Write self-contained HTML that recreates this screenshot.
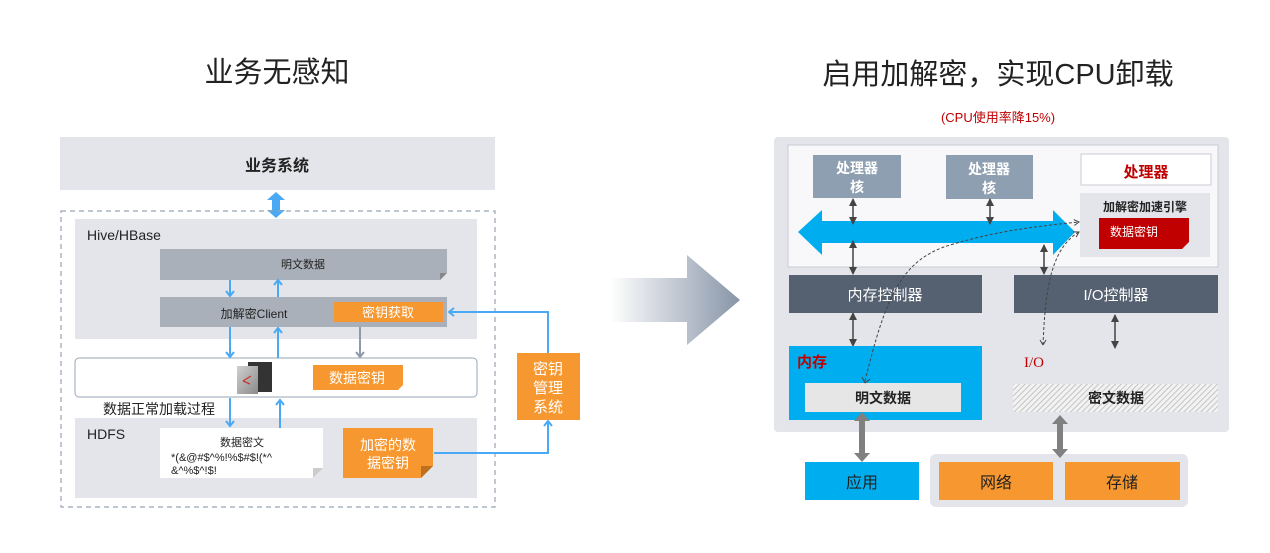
<!DOCTYPE html>
<html><head><meta charset="utf-8"><style>
html,body{margin:0;padding:0;background:#fff;}
svg{display:block;font-family:"Liberation Sans","Noto Sans CJK SC",sans-serif;}
</style></head><body>
<svg width="1270" height="553" viewBox="0 0 1270 553" xmlns="http://www.w3.org/2000/svg">
<defs>
<linearGradient id="ga" x1="0" x2="1" y1="0" y2="0">
<stop offset="0" stop-color="#fff"/><stop offset="1" stop-color="#8795a8"/></linearGradient>
<linearGradient id="ic" x1="0" x2="1" y1="0" y2="1">
<stop offset="0" stop-color="#d0d0d0"/><stop offset="1" stop-color="#8a8a8a"/></linearGradient>
<pattern id="hatch" width="4" height="4" patternUnits="userSpaceOnUse" patternTransform="rotate(45)">
<rect width="4" height="4" fill="#f2f2f2"/><line x1="0" y1="0" x2="0" y2="4" stroke="#b5b5b5" stroke-width="1.5"/></pattern>
<marker id="bl" markerWidth="10" markerHeight="10" refX="5" refY="5" orient="auto" markerUnits="userSpaceOnUse"><path d="M1,1 L6,5 L1,9" fill="none" stroke="#4aa9f5" stroke-width="2"/></marker>
<marker id="gr" markerWidth="10" markerHeight="10" refX="5" refY="5" orient="auto" markerUnits="userSpaceOnUse"><path d="M1,1 L6,5 L1,9" fill="none" stroke="#8e9aaa" stroke-width="2"/></marker>
<marker id="dk" markerWidth="8" markerHeight="8" refX="7" refY="4" orient="auto" markerUnits="userSpaceOnUse"><path d="M0,0 L8,4 L0,8z" fill="#444"/></marker>
<marker id="dd" markerWidth="8" markerHeight="8" refX="6" refY="4" orient="auto" markerUnits="userSpaceOnUse"><path d="M1,1 L6,4 L1,7" fill="none" stroke="#444" stroke-width="1"/></marker>
</defs>

<!-- LEFT -->
<text x="277" y="82" font-size="29" text-anchor="middle" fill="#222">业务无感知</text>
<rect x="60" y="137" width="435" height="53" fill="#e4e5ea"/>
<text x="277" y="171" font-size="16" font-weight="bold" text-anchor="middle" fill="#222">业务系统</text>
<path d="M276,192 l-9,8 h5 v10 h-5 l9,8 l9,-8 h-5 v-10 h5z" fill="#4aa9f5"/>
<rect x="61" y="211" width="434" height="296" fill="none" stroke="#98a3b3" stroke-width="1.2" stroke-dasharray="5,4"/>
<rect x="75" y="219" width="402" height="120" fill="#e4e5ea"/>
<text x="87" y="240" font-size="14" fill="#222">Hive/HBase</text>
<path d="M160,249 h287 v24 l-7,7 h-280z" fill="#aab0b9"/>
<path d="M447,273 l-7,7 v-7z" fill="#888"/>
<text x="303" y="268" font-size="11" text-anchor="middle" fill="#222">明文数据</text>
<rect x="160" y="297" width="287" height="30" fill="#aab0b9"/>
<text x="254" y="318" font-size="12" text-anchor="middle" fill="#222">加解密Client</text>
<rect x="334" y="302" width="109" height="20" fill="#f7972f"/>
<text x="388" y="317" font-size="13" text-anchor="middle" fill="#fff">密钥获取</text>
<rect x="75" y="358" width="402" height="39" rx="4" fill="#fff" stroke="#9aa6b5"/>
<rect x="248" y="362" width="24" height="30" fill="#333"/>
<rect x="237" y="366" width="21" height="28" fill="url(#ic)"/>
<path d="M243,381 l8,-5 M243,381 l7,3" stroke="#c33" stroke-width="1.3"/>
<path d="M313,365 h90 v20 l-5,5 h-85z" fill="#f7972f"/>
<text x="357" y="383" font-size="14" text-anchor="middle" fill="#fff">数据密钥</text>
<text x="103" y="414" font-size="14" fill="#222">数据正常加载过程</text>
<rect x="75" y="418" width="402" height="80" fill="#e4e5ea"/>
<text x="87" y="439" font-size="14" fill="#222">HDFS</text>
<path d="M160,428 h163 v40 l-10,10 h-153z" fill="#fff"/>
<path d="M323,468 l-10,10 v-10z" fill="#ccc"/>
<text x="242" y="446" font-size="11" text-anchor="middle" fill="#222">数据密文</text>
<text x="171" y="461" font-size="11" fill="#222">*(&amp;@#$^%!%$#$!(*^</text>
<text x="171" y="474" font-size="11" fill="#222">&amp;^%$^!$!</text>
<path d="M343,428 h90 v38 l-12,12 h-78z" fill="#f7972f"/>
<path d="M433,466 l-12,12 v-12z" fill="#c06f1c"/>
<text x="388" y="450" font-size="14" text-anchor="middle" fill="#fff">加密的数</text>
<text x="388" y="468" font-size="14" text-anchor="middle" fill="#fff">据密钥</text>
<rect x="517" y="353" width="63" height="67" fill="#f7972f"/>
<text x="548" y="374" font-size="15" text-anchor="middle" fill="#fff">密钥</text>
<text x="548" y="393" font-size="15" text-anchor="middle" fill="#fff">管理</text>
<text x="548" y="412" font-size="15" text-anchor="middle" fill="#fff">系统</text>
<g stroke="#4aa9f5" stroke-width="2" fill="none">
<path d="M434,453 H548 V422" marker-end="url(#bl)"/>
<path d="M548,353 V312 H450" marker-end="url(#bl)"/>
<path d="M230,280 V295" marker-end="url(#bl)"/>
<path d="M278,297 V281" marker-end="url(#bl)"/>
<path d="M230,327 V356" marker-end="url(#bl)"/>
<path d="M278,358 V329" marker-end="url(#bl)"/>
<path d="M230,398 V425" marker-end="url(#bl)"/>
<path d="M280,428 V401" marker-end="url(#bl)"/>
</g>
<path d="M360,327 V356" stroke="#8e9aaa" stroke-width="2" fill="none" marker-end="url(#gr)"/>

<!-- middle arrow -->
<path d="M610,278 H687 V255 L740,300 L687,345 V322 H610z" fill="url(#ga)"/>

<!-- RIGHT -->
<text x="998" y="84" font-size="29" text-anchor="middle" fill="#222">启用加解密，实现CPU卸载</text>
<text x="998" y="122" font-size="13" text-anchor="middle" fill="#c00000">(CPU使用率降15%)</text>
<rect x="774" y="137" width="455" height="295" rx="4" fill="#e4e5ea"/>
<rect x="788" y="145" width="430" height="122" fill="#f8f8fa" stroke="#c8ccd4"/>
<rect x="813" y="155" width="88" height="43" fill="#8e9fb1"/>
<text x="857" y="173" font-size="14" font-weight="bold" text-anchor="middle" fill="#fff">处理器</text>
<text x="857" y="192" font-size="14" font-weight="bold" text-anchor="middle" fill="#fff">核</text>
<rect x="946" y="155" width="87" height="44" fill="#8e9fb1"/>
<text x="989" y="174" font-size="14" font-weight="bold" text-anchor="middle" fill="#fff">处理器</text>
<text x="989" y="193" font-size="14" font-weight="bold" text-anchor="middle" fill="#fff">核</text>
<rect x="1081" y="154" width="130" height="31" fill="#fff" stroke="#c8ccd4"/>
<text x="1146" y="177" font-size="15" font-weight="bold" text-anchor="middle" fill="#c00000">处理器</text>
<rect x="1080" y="193" width="130" height="64" fill="#e4e5ea"/>
<text x="1145" y="211" font-size="12" font-weight="bold" text-anchor="middle" fill="#222">加解密加速引擎</text>
<path d="M1099,218 h90 v24 l-7,7 h-83z" fill="#c00000"/>
<text x="1134" y="236" font-size="12" text-anchor="middle" fill="#fff">数据密钥</text>
<path d="M798,232 L822,210 V221 H1053 V210 L1075,232 L1053,255 V243 H822 V255z" fill="#00aeef"/>
<rect x="789" y="275" width="193" height="38" fill="#556070"/>
<text x="885" y="300" font-size="15" text-anchor="middle" fill="#fff">内存控制器</text>
<rect x="1014" y="275" width="204" height="38" fill="#556070"/>
<text x="1116" y="300" font-size="15" text-anchor="middle" fill="#fff">I/O控制器</text>
<g stroke="#444" stroke-width="1.3" fill="none">
<path d="M853,205 V224" marker-end="url(#dk)"/><path d="M853,218 V199" marker-end="url(#dk)"/>
<path d="M853,248 V274" marker-end="url(#dk)"/><path d="M853,268 V241" marker-end="url(#dk)"/>
<path d="M990,205 V224" marker-end="url(#dk)"/><path d="M990,218 V199" marker-end="url(#dk)"/>
<path d="M1044,252 V274" marker-end="url(#dk)"/><path d="M1044,268 V245" marker-end="url(#dk)"/>
<path d="M853,320 V346" marker-end="url(#dk)"/><path d="M853,340 V313" marker-end="url(#dk)"/>
<path d="M1115,322 V348" marker-end="url(#dk)"/><path d="M1115,342 V315" marker-end="url(#dk)"/>
</g>
<rect x="789" y="346" width="193" height="74" fill="#00aeef"/>
<text x="797" y="367" font-size="15" font-weight="bold" fill="#c00000">内存</text>
<rect x="805" y="383" width="156" height="29" fill="#e6e6e6"/>
<text x="883" y="403" font-size="14" font-weight="bold" text-anchor="middle" fill="#222">明文数据</text>
<g stroke="#444" stroke-width="1" fill="none" stroke-dasharray="3,2">
<path d="M865,381 C885,300 900,260 950,245 S1040,226 1079,222" marker-end="url(#dd)"/>
<path d="M1043,345 C1045,300 1048,250 1079,232" marker-end="url(#dd)"/>
</g>
<path d="M865,383 l-3,-6 M865,383 l5,-4" stroke="#444" fill="none"/>
<path d="M1043,345 l-3,-5 M1043,345 l3,-5" stroke="#444" fill="none"/>
<text x="1024" y="367" font-size="15" fill="#c00000" font-family="Liberation Serif,serif">I/O</text>
<rect x="1013" y="384" width="205" height="28" fill="url(#hatch)"/>
<text x="1116" y="403" font-size="14" font-weight="bold" text-anchor="middle" fill="#222">密文数据</text>
<path d="M862,412 l-8,9 h5 v32 h-5 l8,9 l8,-9 h-5 v-32 h5z" fill="#808080"/>
<rect x="930" y="454" width="258" height="53" rx="6" fill="#e4e5ea"/>
<path d="M1060,415 l-8,9 h5 v25 h-5 l8,9 l8,-9 h-5 v-25 h5z" fill="#808080"/>
<rect x="805" y="462" width="114" height="38" fill="#00aeef"/>
<text x="862" y="488" font-size="16" text-anchor="middle" fill="#222">应用</text>
<rect x="939" y="462" width="114" height="38" fill="#f7972f"/>
<text x="996" y="488" font-size="16" text-anchor="middle" fill="#222">网络</text>
<rect x="1065" y="462" width="115" height="38" fill="#f7972f"/>
<text x="1122" y="488" font-size="16" text-anchor="middle" fill="#222">存储</text>
</svg>
</body></html>
